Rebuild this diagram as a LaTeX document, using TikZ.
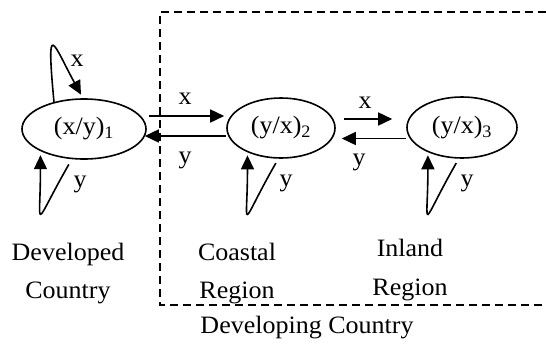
\documentclass[tikz,border=0pt]{standalone}
\usepackage{fontspec}
\setmainfont{Liberation Serif}[FakeStretch=1.04]
\usetikzlibrary{shapes,arrows.meta}

\begin{document}
\begin{tikzpicture}[x=1pt, y=-1pt, line width=1.6pt]
    \tikzstyle{every node}=[inner sep=0pt, align=center,
                % The text:
                font=\fontsize{25}{38.5}\selectfont]
    \tikzstyle{region} = [ellipse, draw=black, minimum width=124pt, minimum height=60pt]
    \tikzstyle{flow} = [-{Triangle[length=14pt,width=13pt]}]
    \useasboundingbox (0,0) rectangle (546,343);
    % the three economies
    \node[region] (dev) at (84,129) {(x/y)\textsubscript{1}};
    \node[region, minimum width=108pt] (coast) at (281,128) {(y/x)\textsubscript{2}};
    \node[region, minimum width=110pt, minimum height=61pt] (inland) at (462,127.5) {(y/x)\textsubscript{3}};
    % flows between them
    \draw[flow, shorten <=2pt, shorten >=2pt] ([yshift=13pt]dev.east) -- ([yshift=13pt]dev.east -| coast.west);
    \draw[flow, shorten >=-2pt] ([yshift=-8pt]coast.west) -- ([yshift=-8pt]coast.west -| dev.east);
    \draw[flow, shorten <=8pt, shorten >=14pt] ([yshift=9pt]coast.east) -- ([yshift=9pt]coast.east -| inland.west);
    \draw[flow, shorten >=6pt] ([yshift=-11pt]inland.west) -- ([yshift=-11pt]inland.west -| coast.east);
    \node (x12) at (185,99) {x};
    \node (y21) at (185,160) {y};
    \node (x23) at (365,102.5) {x};
    \node (y32) at (359,162) {y};
    % loops
    \draw[flow, shorten >=4pt] (dev.138) .. controls +(-8,-86) and +(-30,-55) .. (dev.92);
    \node (xdev) at (77,61) {x};
    \draw[flow, shorten <=6pt, shorten >=4pt] (dev.-112) .. controls +(-40,70) and +(0,80) .. (dev.207);
    \node (ydev) at (80,184) {y};
    \draw[flow, shorten <=5pt, shorten >=3pt] (coast.-95) .. controls +(-40,70) and +(0,80) .. (coast.216);
    \node (ycoast) at (286,183) {y};
    \draw[flow, shorten <=5pt, shorten >=3pt] (inland.-96) .. controls +(-40,70) and +(0,80) .. (inland.216);
    \node (yinland) at (467,183) {y};
    % labels
    \node[anchor=base] (devtxt) at (68,298.5) {Developed\\Country};
    \node[anchor=base] (coasttxt) at (237,298.5) {Coastal\\Region};
    \node[anchor=base] (inlandtxt) at (410,295) {Inland\\Region};
    \draw[dashed, dash pattern=on 8pt off 5pt, line width=1.3pt] (546,12) -- (160,12) -- (160,305) -- (546,305);
    \node[anchor=base] (devingtxt) at (307,333) {Developing Country};
\end{tikzpicture}
\end{document}
